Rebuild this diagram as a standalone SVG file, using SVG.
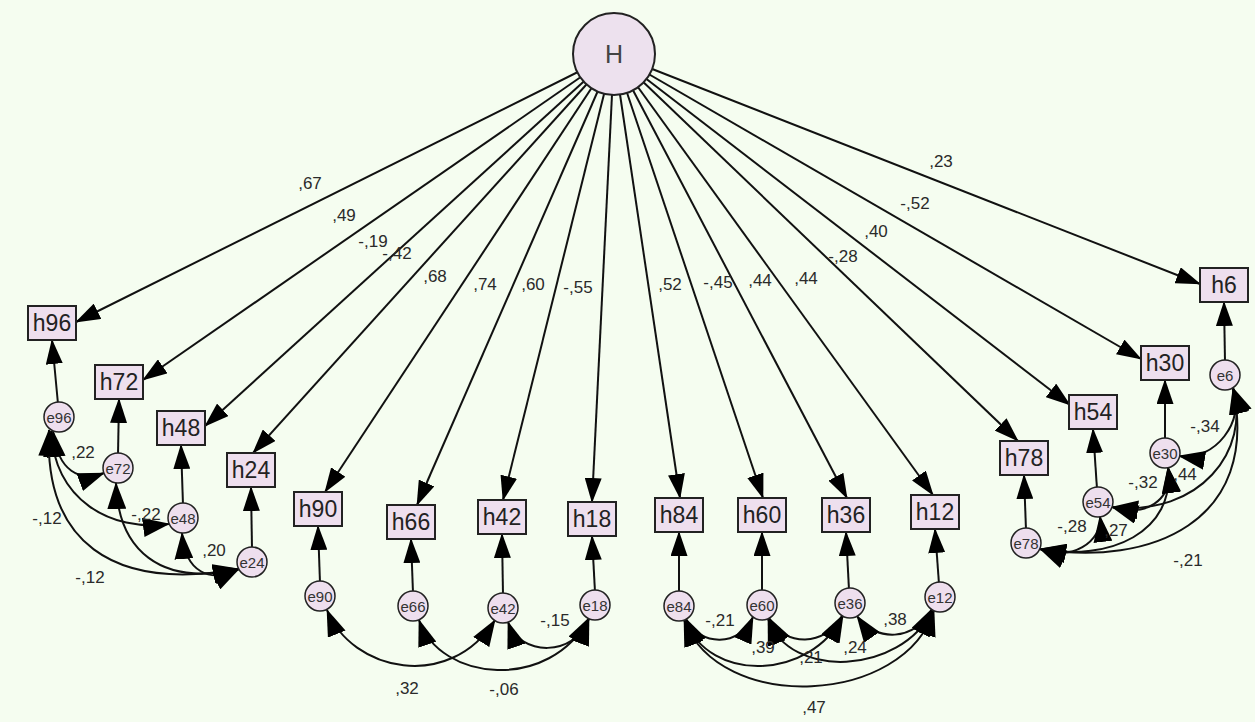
<svg xmlns="http://www.w3.org/2000/svg" width="1255" height="722" viewBox="0 0 1255 722">
<style>
.bg{fill:#f5fdf0}
.ln{stroke:#111;stroke-width:2;fill:none}
.rg{marker-end:url(#ah)}
.cv{marker-start:url(#ac);marker-end:url(#ac)}
.box{fill:#eedfee;stroke:#222;stroke-width:2}
.err{fill:#eedfee;stroke:#222;stroke-width:1.5}
.bt{font-family:"Liberation Sans",Arial,sans-serif;font-size:23px;fill:#222;text-anchor:middle;dominant-baseline:central}
.et{font-family:"Liberation Sans",Arial,sans-serif;font-size:15px;fill:#333;text-anchor:middle;dominant-baseline:central}
.lb{font-family:"Liberation Sans",Arial,sans-serif;font-size:17px;fill:#2a2a2a;text-anchor:middle;dominant-baseline:central}
</style>
<defs>
<marker id="ah" viewBox="0 0 25 17" markerWidth="25" markerHeight="17" refX="24" refY="8.5" orient="auto-start-reverse" markerUnits="userSpaceOnUse"><path d="M0,0 L25,8.5 L0,17 z" fill="#000"/></marker>
<marker id="ac" viewBox="0 0 27 19" markerWidth="27" markerHeight="19" refX="26" refY="9.5" orient="auto-start-reverse" markerUnits="userSpaceOnUse"><path d="M0,0 L27,9.5 L0,19 z" fill="#000"/></marker>
</defs>
<rect class="bg" x="0" y="0" width="1255" height="722"/>
<g id="connectors">
<g class="ln rg">
<path d="M614 54 L76 322"/>
<path d="M614 54 L143 380"/>
<path d="M614 54 L205 426"/>
<path d="M614 54 L253 453"/>
<path d="M614 54 L325 492"/>
<path d="M614 54 L417 505"/>
<path d="M614 54 L503 500"/>
<path d="M614 54 L592 502"/>
<path d="M614 54 L680 498"/>
<path d="M614 54 L763 498"/>
<path d="M614 54 L847 498"/>
<path d="M614 54 L933 495"/>
<path d="M614 54 L1018 441"/>
<path d="M614 54 L1070 405"/>
<path d="M614 54 L1141 359"/>
<path d="M614 54 L1200 284"/>
<path d="M58 404 L52 340"/>
<path d="M118 455 L119 399"/>
<path d="M183 505 L181 445"/>
<path d="M252 549 L251 487"/>
<path d="M320 583 L318 526"/>
<path d="M413 593 L411 539"/>
<path d="M503 595 L502 534"/>
<path d="M595 592 L592 536"/>
<path d="M679 593 L679 532"/>
<path d="M762 592 L762 532"/>
<path d="M849 590 L846 532"/>
<path d="M939 584 L935 529"/>
<path d="M1026 530 L1024 475"/>
<path d="M1097 489 L1093 429"/>
<path d="M1165 440 L1165 380"/>
<path d="M1225 362 L1224 302"/>
</g>
<g class="ln cv">
<path d="M53 431 C58 472 80 482 104 473"/>
<path d="M51 431 C55 500 110 532 169 524"/>
<path d="M49 430 C44 540 110 592 239 569"/>
<path d="M116 483 C118 550 160 587 239 569"/>
<path d="M182 533 C185 572 210 584 239 569"/>
<path d="M327 610 C352 672 450 692 495 620"/>
<path d="M419 620 C440 682 550 692 589 618"/>
<path d="M508 622 C520 657 575 657 589 619"/>
<path d="M686 619 C700 647 740 647 753 617"/>
<path d="M685 620 C710 684 810 680 843 616"/>
<path d="M684 620 C720 715 905 705 934 610"/>
<path d="M769 618 C785 647 825 647 842 616"/>
<path d="M768 619 C790 680 900 675 933 610"/>
<path d="M857 616 C875 642 915 642 932 609"/>
<path d="M1233 388 C1246 420 1215 462 1179 456"/>
<path d="M1233 388 C1251 450 1200 517 1112 507"/>
<path d="M1233 388 C1261 522 1150 567 1040 549"/>
<path d="M1168 467 C1173 502 1145 517 1112 507"/>
<path d="M1168 467 C1176 532 1110 562 1040 549"/>
<path d="M1100 516 C1103 542 1070 562 1040 549"/>
</g>
</g>
<g id="labels">
<text class="lb" x="310" y="183">,67</text>
<text class="lb" x="344" y="215">,49</text>
<text class="lb" x="373" y="241">-,19</text>
<text class="lb" x="397" y="253">-,42</text>
<text class="lb" x="435" y="276">,68</text>
<text class="lb" x="485" y="284">,74</text>
<text class="lb" x="533" y="284">,60</text>
<text class="lb" x="578" y="287">-,55</text>
<text class="lb" x="670" y="284">,52</text>
<text class="lb" x="718" y="282">-,45</text>
<text class="lb" x="760" y="280">,44</text>
<text class="lb" x="806" y="278">,44</text>
<text class="lb" x="843" y="256">-,28</text>
<text class="lb" x="876" y="231">,40</text>
<text class="lb" x="915" y="203">-,52</text>
<text class="lb" x="941" y="161">,23</text>
<text class="lb" x="83" y="452">,22</text>
<text class="lb" x="146" y="514">-,22</text>
<text class="lb" x="47" y="518">-,12</text>
<text class="lb" x="90" y="577">-,12</text>
<text class="lb" x="214" y="550">,20</text>
<text class="lb" x="407" y="688">,32</text>
<text class="lb" x="504" y="689">-,06</text>
<text class="lb" x="555" y="620">-,15</text>
<text class="lb" x="720" y="620">-,21</text>
<text class="lb" x="763" y="647">,39</text>
<text class="lb" x="811" y="657">,21</text>
<text class="lb" x="855" y="647">,24</text>
<text class="lb" x="895" y="619">,38</text>
<text class="lb" x="814" y="707">,47</text>
<text class="lb" x="1205" y="426">-,34</text>
<text class="lb" x="1143" y="482">-,32</text>
<text class="lb" x="1185" y="474">,44</text>
<text class="lb" x="1072" y="526">-,28</text>
<text class="lb" x="1116" y="530">,27</text>
<text class="lb" x="1188" y="560">-,21</text>
</g>
<g id="H"><circle cx="614" cy="54" r="41" fill="#ede1ee" stroke="#222" stroke-width="2"/><text class="bt" x="614" y="54" style="font-size:25px;fill:#444">H</text></g>
<g id="h96"><rect class="box" x="28" y="306" width="48" height="34"/><text class="bt" x="52" y="323">h96</text></g>
<g id="h72"><rect class="box" x="95" y="365" width="48" height="34"/><text class="bt" x="119" y="382">h72</text></g>
<g id="h48"><rect class="box" x="157" y="411" width="48" height="34"/><text class="bt" x="181" y="428">h48</text></g>
<g id="h24"><rect class="box" x="227" y="453" width="48" height="34"/><text class="bt" x="251" y="470">h24</text></g>
<g id="h90"><rect class="box" x="294" y="492" width="48" height="34"/><text class="bt" x="318" y="509">h90</text></g>
<g id="h66"><rect class="box" x="387" y="505" width="48" height="34"/><text class="bt" x="411" y="522">h66</text></g>
<g id="h42"><rect class="box" x="478" y="500" width="48" height="34"/><text class="bt" x="502" y="517">h42</text></g>
<g id="h18"><rect class="box" x="568" y="502" width="48" height="34"/><text class="bt" x="592" y="519">h18</text></g>
<g id="h84"><rect class="box" x="655" y="498" width="48" height="34"/><text class="bt" x="679" y="515">h84</text></g>
<g id="h60"><rect class="box" x="738" y="498" width="48" height="34"/><text class="bt" x="762" y="515">h60</text></g>
<g id="h36"><rect class="box" x="822" y="498" width="48" height="34"/><text class="bt" x="846" y="515">h36</text></g>
<g id="h12"><rect class="box" x="911" y="495" width="48" height="34"/><text class="bt" x="935" y="512">h12</text></g>
<g id="h78"><rect class="box" x="1000" y="441" width="48" height="34"/><text class="bt" x="1024" y="458">h78</text></g>
<g id="h54"><rect class="box" x="1069" y="395" width="48" height="34"/><text class="bt" x="1093" y="412">h54</text></g>
<g id="h30"><rect class="box" x="1141" y="346" width="48" height="34"/><text class="bt" x="1165" y="363">h30</text></g>
<g id="h6"><rect class="box" x="1200" y="268" width="48" height="34"/><text class="bt" x="1224" y="285">h6</text></g>
<g id="e96"><circle class="err" cx="59" cy="417" r="15"/><text class="et" x="59" y="417">e96</text></g>
<g id="e72"><circle class="err" cx="118" cy="468" r="15"/><text class="et" x="118" y="468">e72</text></g>
<g id="e48"><circle class="err" cx="183" cy="518" r="15"/><text class="et" x="183" y="518">e48</text></g>
<g id="e24"><circle class="err" cx="252" cy="562" r="15"/><text class="et" x="252" y="562">e24</text></g>
<g id="e90"><circle class="err" cx="320" cy="596" r="15"/><text class="et" x="320" y="596">e90</text></g>
<g id="e66"><circle class="err" cx="413" cy="606" r="15"/><text class="et" x="413" y="606">e66</text></g>
<g id="e42"><circle class="err" cx="503" cy="608" r="15"/><text class="et" x="503" y="608">e42</text></g>
<g id="e18"><circle class="err" cx="595" cy="605" r="15"/><text class="et" x="595" y="605">e18</text></g>
<g id="e84"><circle class="err" cx="679" cy="606" r="15"/><text class="et" x="679" y="606">e84</text></g>
<g id="e60"><circle class="err" cx="762" cy="605" r="15"/><text class="et" x="762" y="605">e60</text></g>
<g id="e36"><circle class="err" cx="850" cy="603" r="15"/><text class="et" x="850" y="603">e36</text></g>
<g id="e12"><circle class="err" cx="940" cy="597" r="15"/><text class="et" x="940" y="597">e12</text></g>
<g id="e78"><circle class="err" cx="1026" cy="543" r="15"/><text class="et" x="1026" y="543">e78</text></g>
<g id="e54"><circle class="err" cx="1098" cy="502" r="15"/><text class="et" x="1098" y="502">e54</text></g>
<g id="e30"><circle class="err" cx="1165" cy="453" r="15"/><text class="et" x="1165" y="453">e30</text></g>
<g id="e6"><circle class="err" cx="1225" cy="375" r="15"/><text class="et" x="1225" y="375">e6</text></g>
</svg>
